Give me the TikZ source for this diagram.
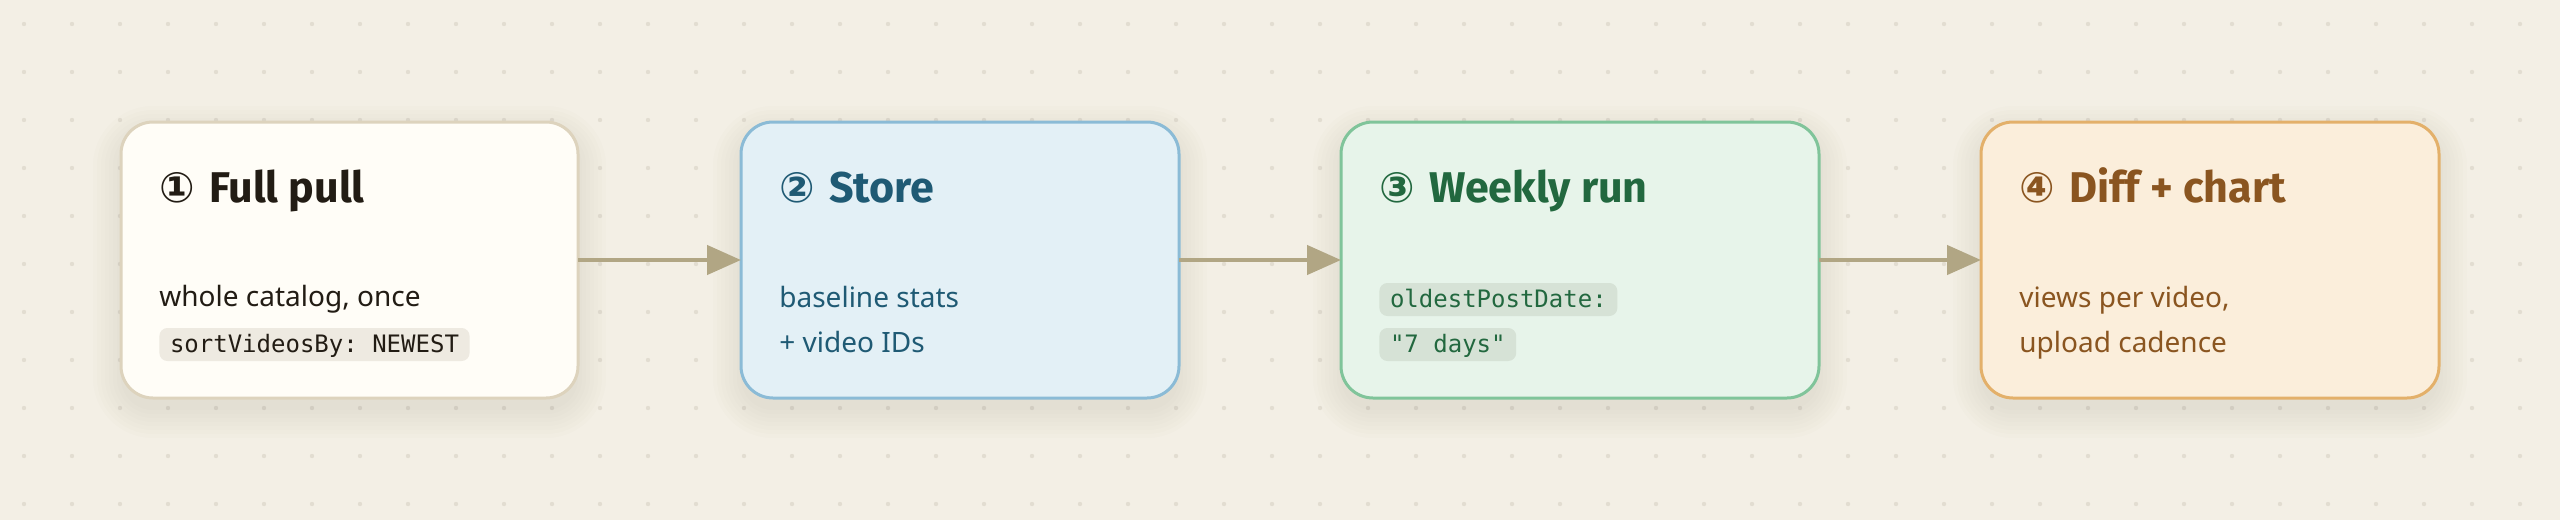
\documentclass[tikz,border=0pt]{standalone}
\usepackage{fontspec}
\setmainfont{Noto Sans}
\setmonofont{DejaVu Sans Mono}
\newfontfamily\headfont{Fira Sans}
\newfontfamily\circfont{DejaVu Sans}
\usetikzlibrary{positioning,arrows.meta}

\pgfdeclarelayer{paperbg}
\pgfdeclarelayer{shade}
\pgfsetlayers{paperbg,shade,main}

\definecolor{paper}{HTML}{F3EFE5}
\definecolor{dotgray}{HTML}{E2DDD1}
\definecolor{flowline}{HTML}{B1A684}
\definecolor{shadowbrown}{HTML}{6E5A36}
\definecolor{pullfill}{HTML}{FFFDF7}
\definecolor{pullline}{HTML}{DDD3BD}
\definecolor{pulltext}{HTML}{221C14}
\definecolor{pullcode}{HTML}{EEEAE1}
\definecolor{storefill}{HTML}{E3F0F6}
\definecolor{storeline}{HTML}{8BBBD6}
\definecolor{storetext}{HTML}{1F5A74}
\definecolor{weekfill}{HTML}{E7F4EA}
\definecolor{weekline}{HTML}{80C49A}
\definecolor{weektext}{HTML}{22683F}
\definecolor{weekcode}{HTML}{D6E2D6}
\definecolor{difffill}{HTML}{FBEEDB}
\definecolor{diffline}{HTML}{E3B06A}
\definecolor{difftext}{HTML}{8A5520}

\tikzset{
	stage/.style={draw, line width=1.5pt, rounded corners=16pt, minimum height=138pt,
		inner sep=0pt, outer sep=0pt},
	heading/.style={anchor=base west, inner sep=0pt, font=\headfont\fontsize{21.5}{24}\selectfont\bfseries},
	bodytext/.style={anchor=base west, inner sep=0pt, font=\fontsize{14}{17}\selectfont},
	codepill/.style={anchor=base west, inner xsep=5.3pt, inner ysep=2pt, text height=10pt,
		text depth=2.5pt, rounded corners=4pt, font=\ttfamily\fontsize{12}{14}\selectfont},
	flow/.style={line width=2.25pt, draw=flowline, -{Triangle[length=17pt,width=14.5pt]}}
}

\newcommand{\circnum}[1]{{\circfont\bfseries\fontsize{21}{24}\selectfont #1}\hspace{2pt}}

\begin{document}
\begin{tikzpicture}[x=1pt,y=-1pt]

	\begin{pgfonlayer}{paperbg}
		\useasboundingbox[fill=paper] (0,0) rectangle (1280,260);
		% dotted paper
		\foreach \gx in {12,36,...,1272}
			\foreach \gy in {12,36,...,252}
				\fill[dotgray] (\gx,\gy) circle (1.1pt);
	\end{pgfonlayer}

	% stages
	\node[stage, fill=pullfill, draw=pullline, minimum width=228.5pt] (pull) at (174.75,130) {};
	\node[stage, fill=storefill, draw=storeline, minimum width=219pt, right=81.5pt of pull] (store) {};
	\node[stage, fill=weekfill, draw=weekline, minimum width=239pt, right=81pt of store] (week) {};
	\node[stage, fill=difffill, draw=diffline, minimum width=229pt, right=81pt of week] (diff) {};

	% soft shadows
	\begin{pgfonlayer}{shade}
		\foreach \s in {pull,store,week,diff}
			\foreach \k in {0,2,...,14}
				\fill[shadowbrown, opacity=0.013, rounded corners={(16+\k)*1pt}]
					([xshift=-\k pt, yshift={\k pt-6pt}]\s.north west) rectangle ([xshift=\k pt, yshift={-6pt-\k pt}]\s.south east);
	\end{pgfonlayer}

	% arrows
	\draw[flow] (pull) -- (store);
	\draw[flow] (store) -- (week);
	\draw[flow] (week) -- (diff);

	% texts
	\node[heading, text=pulltext] (pull-t) at ([xshift=19pt,yshift=-40pt]pull.north west) {\circnum{①} Full pull};
	\node[bodytext, text=pulltext] (pull-a) at ([xshift=19pt,yshift=-92pt]pull.north west) {whole catalog, once};
	\node[codepill, fill=pullcode, text=pulltext] (pull-b) at ([xshift=19pt,yshift=-115pt]pull.north west) {sortVideosBy: NEWEST};

	\node[heading, text=storetext] (store-t) at ([xshift=19pt,yshift=-40pt]store.north west) {\circnum{②} Store};
	\node[bodytext, text=storetext] (store-a) at ([xshift=19pt,yshift=-92.5pt]store.north west) {baseline stats};
	\node[bodytext, text=storetext] (store-b) at ([xshift=19pt,yshift=-115pt]store.north west) {+ video IDs};

	\node[heading, text=weektext] (week-t) at ([xshift=19pt,yshift=-40pt]week.north west) {\circnum{③} Weekly run};
	\node[codepill, fill=weekcode, text=weektext] (week-a) at ([xshift=19pt,yshift=-92.5pt]week.north west) {oldestPostDate:};
	\node[codepill, fill=weekcode, text=weektext] (week-b) at ([xshift=19pt,yshift=-115pt]week.north west) {"7 days"};

	\node[heading, text=difftext] (diff-t) at ([xshift=19pt,yshift=-40pt]diff.north west) {\circnum{④} Diff + chart};
	\node[bodytext, text=difftext] (diff-a) at ([xshift=19pt,yshift=-92.5pt]diff.north west) {views per video,};
	\node[bodytext, text=difftext] (diff-b) at ([xshift=19pt,yshift=-115pt]diff.north west) {upload cadence};

\end{tikzpicture}
\end{document}
